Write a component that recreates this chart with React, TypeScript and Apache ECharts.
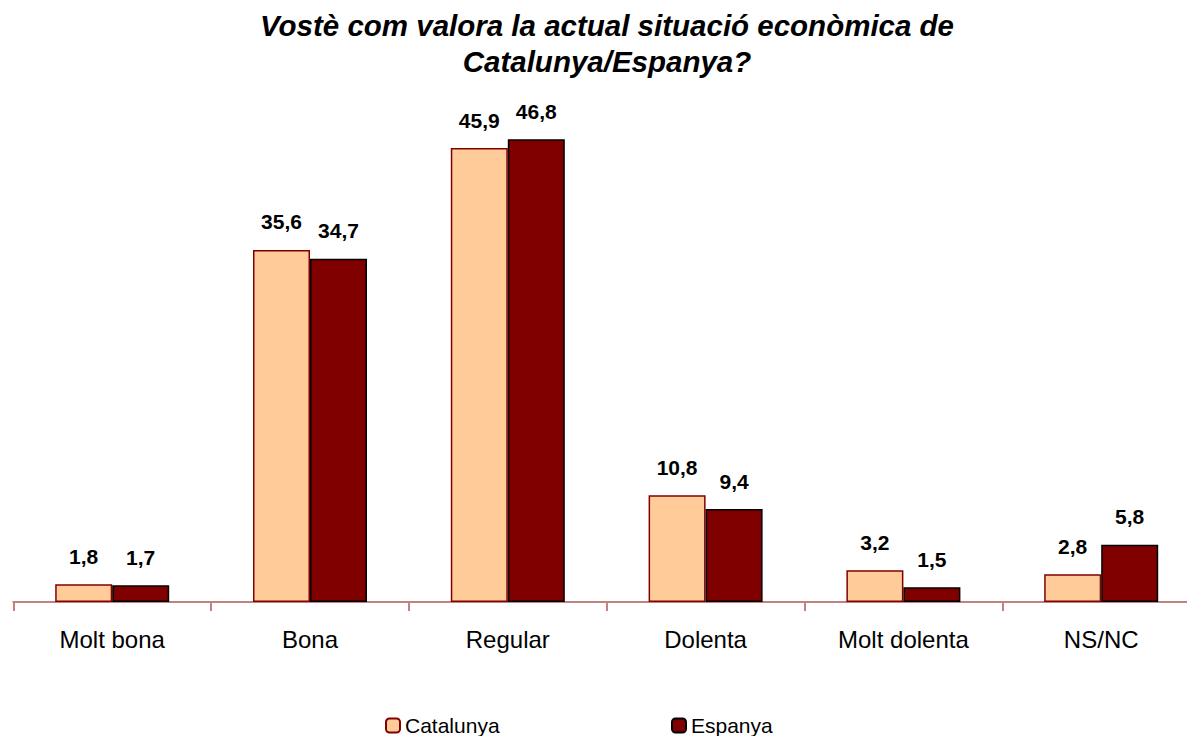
import React, { useEffect, useRef } from "react";
import * as echarts from "echarts";

const TITLE = "Vostè com valora la actual situació econòmica de\nCatalunya/Espanya?";
const categories = ["Molt bona", "Bona", "Regular", "Dolenta", "Molt dolenta", "NS/NC"];
const catalunya = [1.8, 35.6, 45.9, 10.8, 3.2, 2.8];
const espanya = [1.7, 34.7, 46.8, 9.4, 1.5, 5.8];

const FONT = '"Liberation Sans", Arial, sans-serif';

export default function App() {
  const ref = useRef<HTMLDivElement>(null);
  useEffect(() => {
    if (!ref.current) return;
    const chart = echarts.init(ref.current, null, { renderer: "svg" });
    const label = {
      show: true,
      position: "top",
      distance: 17.5,
      fontFamily: FONT,
      fontSize: 21,
      fontWeight: "bold",
      color: "#000",
      formatter: (p: any) => String(p.value).replace(".", ","),
    };
    chart.setOption({
      animation: false,
      backgroundColor: "#fff",
      graphic: [
        {
          type: "text",
          x: 607,
          y: 7,
          style: {
            text: TITLE,
            fill: "#000",
            font: `italic bold 29.5px ${FONT}`,
            align: "center",
            verticalAlign: "top",
            lineHeight: 36,
          },
        },
      ],
      legend: [
        {
          data: ["Catalunya"],
          left: 385,
          top: 715,
          padding: 0,
          itemWidth: 14,
          itemHeight: 14,
          itemGap: 0,
          textStyle: { fontFamily: FONT, fontSize: 21, color: "#000" },
        },
        {
          data: ["Espanya"],
          left: 671,
          top: 715,
          padding: 0,
          itemWidth: 14,
          itemHeight: 14,
          itemGap: 0,
          textStyle: { fontFamily: FONT, fontSize: 21, color: "#000" },
        },
      ],
      grid: {
        left: 13.3,
        top: 107.5,
        width: 1186.8,
        height: 494.5,
        containLabel: false,
        outerBoundsMode: "none",
      } as any,
      xAxis: {
        type: "category",
        data: categories,
        axisLine: { lineStyle: { color: "#c38282", width: 2 } },
        axisTick: { show: true, length: 9, lineStyle: { color: "#c38282", width: 2 } },
        axisLabel: { margin: 25, fontFamily: FONT, fontSize: 24, color: "#000" },
      },
      yAxis: { type: "value", min: 0, max: 50, show: false, splitLine: { show: false } },
      series: [
        {
          name: "Catalunya",
          type: "bar",
          data: catalunya,
          barWidth: 57,
          barGap: "0%",
          itemStyle: { color: "#FFCC99", borderColor: "#800000", borderWidth: 1.5 },
          label,
        },
        {
          name: "Espanya",
          type: "bar",
          data: espanya,
          barWidth: 57,
          barGap: "0%",
          itemStyle: { color: "#800000", borderColor: "#000000", borderWidth: 1.5 },
          label,
        },
      ],
    });
    return () => chart.dispose();
  }, []);
  return (
    <div
      ref={ref}
      style={{ position: "fixed", left: 0, top: 0, width: 1187, height: 736 }}
    />
  );
}
